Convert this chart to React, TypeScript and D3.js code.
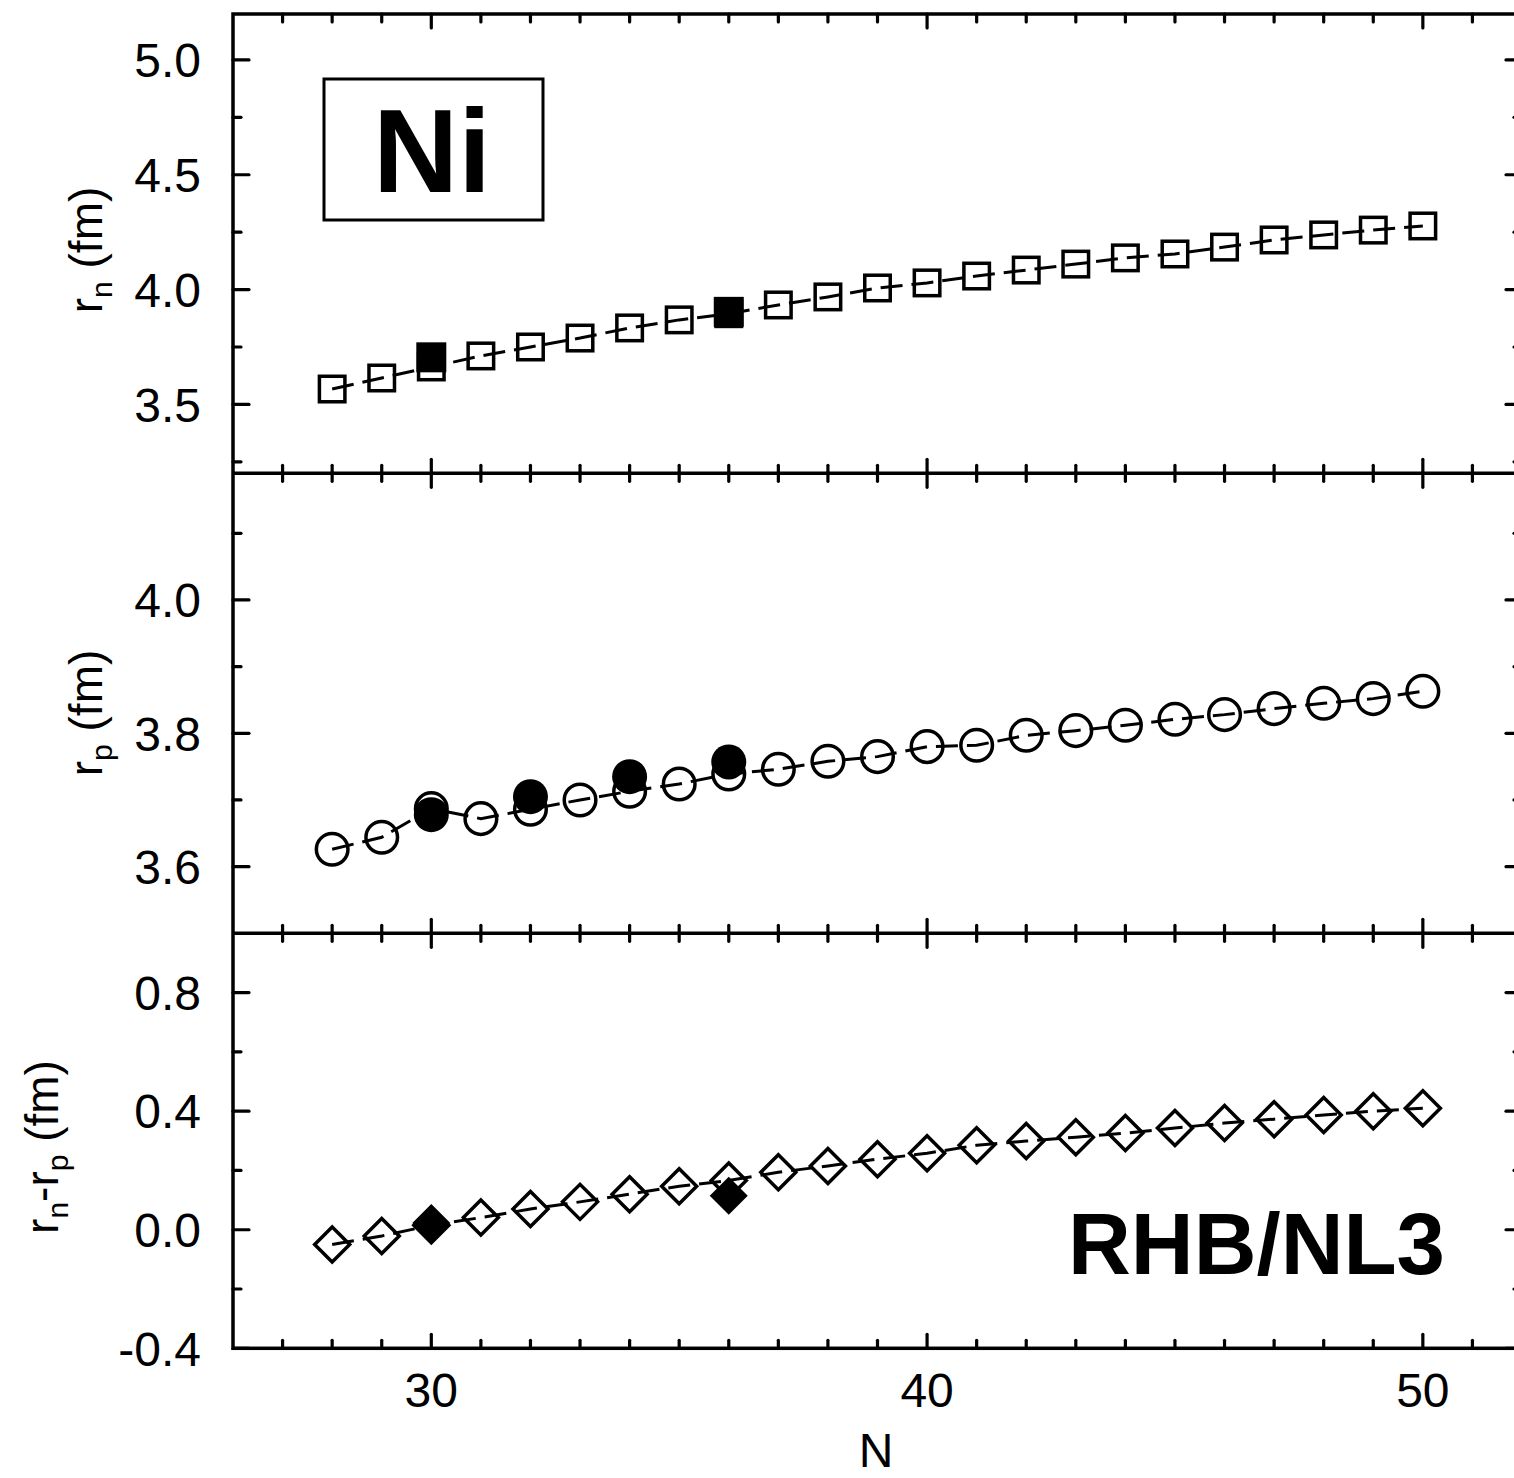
import React from "react";
import * as d3 from "d3";

// ---------- data ----------
const neutronNumbers = [28, 29, 30, 31, 32, 33, 34, 35, 36, 37, 38, 39, 40, 41, 42, 43, 44, 45, 46, 47, 48, 49, 50];
const rnTheory = [3.567, 3.615, 3.663, 3.711, 3.750, 3.789, 3.833, 3.868, 3.895, 3.933, 3.968, 4.007, 4.029, 4.059, 4.085, 4.111, 4.138, 4.155, 4.185, 4.216, 4.238, 4.259, 4.277];
const rpTheory = [3.626, 3.644, 3.687, 3.672, 3.686, 3.700, 3.713, 3.724, 3.739, 3.746, 3.758, 3.765, 3.780, 3.782, 3.797, 3.804, 3.812, 3.821, 3.828, 3.837, 3.845, 3.852, 3.863];
const skinTheory = [-0.050, -0.021, 0.015, 0.041, 0.070, 0.094, 0.120, 0.147, 0.166, 0.194, 0.215, 0.238, 0.258, 0.285, 0.299, 0.312, 0.326, 0.343, 0.360, 0.373, 0.387, 0.400, 0.410];

const rnExpN = [30, 36];
const rnExp = [3.705, 3.903];
const rpExpN = [30, 32, 34, 36];
const rpExp = [3.678, 3.705, 3.735, 3.757];
const skinExpN = [30, 36];
const skinExp = [0.023, 0.115];

const xMajorTicks = [30, 40, 50];
const xMinorTicks = [27, 28, 29, 31, 32, 33, 34, 35, 36, 37, 38, 39, 41, 42, 43, 44, 45, 46, 47, 48, 49, 51];
const xTickLabels = ["30", "40", "50"];

const p1Major = [3.5, 4.0, 4.5, 5.0];
const p1Minor = [3.25, 3.75, 4.25, 4.75];
const p1Labels = ["3.5", "4.0", "4.5", "5.0"];
const p2Major = [3.6, 3.8, 4.0];
const p2Minor = [3.7, 3.9, 4.1];
const p2Labels = ["3.6", "3.8", "4.0"];
const p3Major = [-0.4, 0.0, 0.4, 0.8];
const p3Minor = [-0.2, 0.2, 0.6];
const p3Labels = ["-0.4", "0.0", "0.4", "0.8"];

// ---------- layout (page coordinates) ----------
const W = 1514;
const H = 1478;
const LEFT = 233;
const RIGHT = 1522;
const P1 = { top: 14, bottom: 473.3, domain: [3.2, 5.2] };
const P2 = { top: 473.3, bottom: 933.3, domain: [3.5, 4.19] };
const P3 = { top: 933.3, bottom: 1348.3, domain: [-0.4, 1.0] };

const FONT = "Liberation Sans, Arial, Helvetica, sans-serif";

const x = d3.scaleLinear().domain([26, 52]).range([LEFT, RIGHT]);

function yScale(p: { top: number; bottom: number; domain: number[] }) {
  return d3.scaleLinear().domain(p.domain).range([p.bottom, p.top]);
}

const y1 = yScale(P1);
const y2 = yScale(P2);
const y3 = yScale(P3);

const lineGen = (ys: d3.ScaleLinear<number, number>) =>
  d3.line<[number, number]>().x((d) => x(d[0])).y((d) => ys(d[1]));

function zip(a: number[], b: number[]): [number, number][] {
  return a.map((v, i) => [v, b[i]]);
}

const SW = 3.5;

function YTicks({ ys, major, minor, labels }: any) {
  return (
    <g>
      {major.map((v: number, i: number) => (
        <g key={"M" + i}>
          <line x1={LEFT} x2={LEFT + 16} y1={ys(v)} y2={ys(v)} stroke="#000" strokeWidth={3.2} strokeLinecap="round" />
          <line x1={RIGHT} x2={RIGHT - 16} y1={ys(v)} y2={ys(v)} stroke="#000" strokeWidth={3.2} strokeLinecap="round" />
          <text x={201} y={ys(v)} dy="0.36em" textAnchor="end" fontSize={48} fontFamily={FONT}>
            {labels[i]}
          </text>
        </g>
      ))}
      {minor.map((v: number, i: number) => (
        <g key={"m" + i}>
          <line x1={LEFT} x2={LEFT + 8} y1={ys(v)} y2={ys(v)} stroke="#000" strokeWidth={3.2} strokeLinecap="round" />
          <line x1={RIGHT} x2={RIGHT - 8} y1={ys(v)} y2={ys(v)} stroke="#000" strokeWidth={3.2} strokeLinecap="round" />
        </g>
      ))}
    </g>
  );
}

function XTicks({ yPos, up, down }: { yPos: number; up: boolean; down: boolean }) {
  const seg = (len: number) => [up ? yPos - len : yPos, down ? yPos + len : yPos];
  return (
    <g>
      {xMajorTicks.map((v) => {
        const [a, b] = seg(14);
        return <line key={"M" + v} x1={x(v)} x2={x(v)} y1={a} y2={b} stroke="#000" strokeWidth={3.2} strokeLinecap="round" />;
      })}
      {xMinorTicks.map((v) => {
        const [a, b] = seg(8);
        return <line key={"m" + v} x1={x(v)} x2={x(v)} y1={a} y2={b} stroke="#000" strokeWidth={3.2} strokeLinecap="round" />;
      })}
    </g>
  );
}

export default function App() {
  const sq = 25.5;
  const circR = 15.8;
  const dia = 17.5;
  const diamondPath = (cx: number, cy: number, h: number) =>
    `M${cx},${cy - h}L${cx + h},${cy}L${cx},${cy + h}L${cx - h},${cy}Z`;

  return (
    <svg
      width={W}
      height={H}
      viewBox={`0 0 ${W} ${H}`}
      style={{ display: "block", position: "absolute", left: 0, top: 0, background: "#fff", overflow: "hidden" }}
    >
      <rect x={0} y={0} width={W} height={H} fill="#fff" />

      {/* Panel 1: r_n */}
      <path d={lineGen(y1)(zip(neutronNumbers, rnTheory)) || ""} fill="none" stroke="#000" strokeWidth={3} strokeDasharray="22,9" />
      {neutronNumbers.map((n, i) => (
        <rect key={"s" + n} x={x(n) - sq / 2} y={y1(rnTheory[i]) - sq / 2} width={sq} height={sq} fill="none" stroke="#000" strokeWidth={SW} />
      ))}
      {rnExpN.map((n, i) => (
        <rect key={"fs" + n} x={x(n) - 15} y={y1(rnExp[i]) - 15} width={30} height={30} fill="#000" />
      ))}

      {/* Panel 2: r_p */}
      <path d={lineGen(y2)(zip(neutronNumbers, rpTheory)) || ""} fill="none" stroke="#000" strokeWidth={3} strokeDasharray="22,9" />
      {neutronNumbers.map((n, i) => (
        <circle key={"c" + n} cx={x(n)} cy={y2(rpTheory[i])} r={circR} fill="none" stroke="#000" strokeWidth={SW} />
      ))}
      {rpExpN.map((n, i) => (
        <circle key={"fc" + n} cx={x(n)} cy={y2(rpExp[i])} r={17.5} fill="#000" />
      ))}

      {/* Panel 3: r_n - r_p */}
      <path d={lineGen(y3)(zip(neutronNumbers, skinTheory)) || ""} fill="none" stroke="#000" strokeWidth={3} strokeDasharray="22,9" />
      {neutronNumbers.map((n, i) => (
        <path key={"d" + n} d={diamondPath(x(n), y3(skinTheory[i]), dia)} fill="none" stroke="#000" strokeWidth={SW} />
      ))}
      {skinExpN.map((n, i) => (
        <path key={"fd" + n} d={diamondPath(x(n), y3(skinExp[i]), 19)} fill="#000" />
      ))}

      {/* Frame */}
      <rect x={LEFT} y={P1.top} width={RIGHT - LEFT} height={P3.bottom - P1.top} fill="none" stroke="#000" strokeWidth={3.5} />
      <line x1={LEFT} x2={RIGHT} y1={P1.bottom} y2={P1.bottom} stroke="#000" strokeWidth={3.5} />
      <line x1={LEFT} x2={RIGHT} y1={P2.bottom} y2={P2.bottom} stroke="#000" strokeWidth={3.5} />

      <XTicks yPos={P1.top} up={false} down={true} />
      <XTicks yPos={P1.bottom} up={true} down={true} />
      <XTicks yPos={P2.bottom} up={true} down={true} />
      <XTicks yPos={P3.bottom} up={true} down={false} />

      <YTicks ys={y1} major={p1Major} minor={p1Minor} labels={p1Labels} />
      <YTicks ys={y2} major={p2Major} minor={p2Minor} labels={p2Labels} />
      <YTicks ys={y3} major={p3Major} minor={p3Minor} labels={p3Labels} />

      {/* X tick labels */}
      {xMajorTicks.map((v, i) => (
        <text key={"xl" + v} x={x(v)} y={1407} textAnchor="middle" fontSize={48} fontFamily={FONT}>
          {xTickLabels[i]}
        </text>
      ))}
      <text x={876} y={1467} textAnchor="middle" fontSize={48} fontFamily={FONT}>N</text>

      {/* Y titles */}
      <text transform={`translate(102,250) rotate(-90)`} textAnchor="middle" fontSize={46} fontFamily={FONT}>
        r<tspan fontSize={30} dy={10}>n</tspan>
        <tspan dy={-10}> (fm)</tspan>
      </text>
      <text transform={`translate(102,713) rotate(-90)`} textAnchor="middle" fontSize={46} fontFamily={FONT}>
        r<tspan fontSize={30} dy={10}>p</tspan>
        <tspan dy={-10}> (fm)</tspan>
      </text>
      <text transform={`translate(58,1147) rotate(-90)`} textAnchor="middle" fontSize={46} fontFamily={FONT}>
        r<tspan fontSize={30} dy={10}>n</tspan>
        <tspan dy={-10}>-r</tspan>
        <tspan fontSize={30} dy={10}>p</tspan>
        <tspan dy={-10}> (fm)</tspan>
      </text>

      {/* Ni box */}
      <rect x={324} y={79} width={219} height={141} fill="#fff" stroke="#000" strokeWidth={3} />
      <text x={432} y={192} textAnchor="middle" fontSize={118} fontWeight="bold" fontFamily={FONT}>Ni</text>

      {/* RHB/NL3 */}
      <text x={1445} y={1274} textAnchor="end" fontSize={87} fontWeight="bold" fontFamily={FONT}>RHB/NL3</text>
    </svg>
  );
}
